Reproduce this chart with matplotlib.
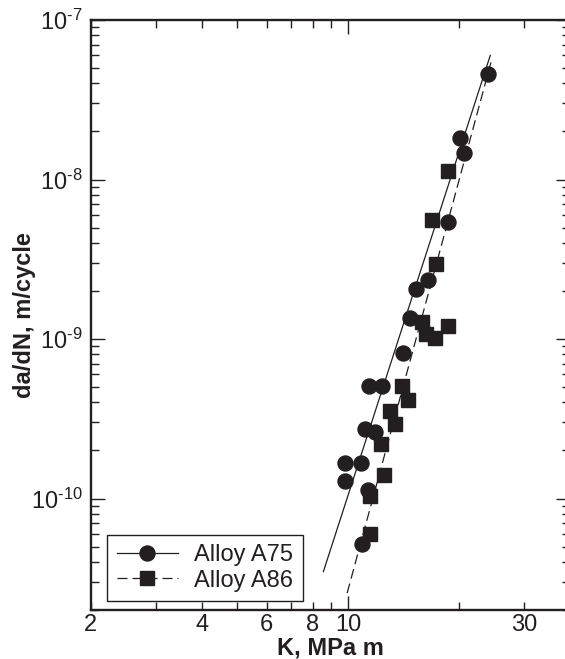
import matplotlib
matplotlib.use("Agg")
import matplotlib.pyplot as plt
from matplotlib.lines import Line2D
from matplotlib.ticker import FixedLocator, FuncFormatter
import math

plt.rcParams['font.family'] = ['Liberation Sans', 'DejaVu Sans']
plt.rcParams['mathtext.fontset'] = 'custom'
plt.rcParams['mathtext.rm'] = 'Liberation Sans'
plt.rcParams['mathtext.it'] = 'Liberation Sans:italic'
plt.rcParams['mathtext.bf'] = 'Liberation Sans:bold'

INK = '#231f20'

# ---- data ----
a75_K = [23.9, 20.1, 20.6, 18.7, 16.5, 15.25, 14.7, 14.1, 11.4, 12.35,
         11.1, 11.84, 9.82, 10.8, 9.82, 11.28, 10.9]
a75_rate = [4.6e-8, 1.82e-8, 1.47e-8, 5.4e-9, 2.35e-9, 2.05e-9, 1.35e-9, 8.2e-10,
            5.1e-10, 5.1e-10, 2.74e-10, 2.61e-10, 1.66e-10, 1.66e-10, 1.28e-10,
            1.13e-10, 5.2e-11]

a86_K = [18.7, 16.9, 17.3, 15.9, 16.3, 17.2, 18.6, 14.0, 14.5, 12.95,
         13.4, 12.27, 12.47, 11.48, 11.48]
a86_rate = [1.13e-8, 5.57e-9, 2.94e-9, 1.27e-9, 1.07e-9, 1.01e-9, 1.2e-9, 5.1e-10,
            4.16e-10, 3.56e-10, 2.94e-10, 2.2e-10, 1.41e-10, 1.04e-10, 5.96e-11]

# fitted lines (end points)
a75_fit_K = [8.56, 24.3]
a75_fit_rate = [3.48e-11, 6.0e-8]
a86_fit_K = [9.93, 24.6]
a86_fit_rate = [2.55e-11, 5.8e-8]

labels = ['Alloy A75', 'Alloy A86']
x_major = [10]
x_minor = [2, 3, 4, 5, 6, 7, 8, 9, 20, 30, 40]
x_minor_labels = ['2', '', '4', '', '6', '', '8', '', '', '30', '']
y_major = [1e-10, 1e-9, 1e-8, 1e-7]

# ---- figure ----
W, H = 565, 659
fig = plt.figure(figsize=(W / 100, H / 100), dpi=100)
ax = fig.add_axes([90.8 / W, (H - 610) / H, (570 - 90.8) / W, 590 / H])

ax.set_xscale('log')
ax.set_yscale('log')
ax.set_xlim(2, 40)
ax.set_ylim(2e-11, 1e-7)

ax.plot(a75_fit_K, a75_fit_rate, color=INK, lw=0.9, ls='-')
ax.plot(a86_fit_K, a86_fit_rate, color=INK, lw=0.9, ls=(0, (8, 4)))

ax.plot(a75_K, a75_rate, ls='none', marker='o', ms=10.8, color=INK, mec=INK)
ax.plot(a86_K, a86_rate, ls='none', marker='s', ms=10.5, color=INK, mec=INK)

# ticks
ax.set_xticks(x_major)
ax.set_xticklabels(['10'])
ax.set_xticks(x_minor, minor=True)
ax.set_xticklabels(x_minor_labels, minor=True)

ax.yaxis.set_major_locator(FixedLocator(y_major))
ax.yaxis.set_major_formatter(
    FuncFormatter(lambda v, p: r'$10^{\text{-}%d}$' % round(-math.log10(v))))

ax.tick_params(axis='both', which='both', direction='in', top=True, right=True,
               colors=INK, labelsize=17, width=1.0)
ax.tick_params(axis='both', which='major', length=10)
ax.tick_params(axis='both', which='minor', length=5.5)
ax.tick_params(axis='x', which='both', pad=3)
ax.tick_params(axis='y', which='both', pad=6)

for s in ax.spines.values():
    s.set_linewidth(1.7)
    s.set_color(INK)

ax.set_xlabel('K, MPa m', fontsize=17, fontweight='bold', color=INK, labelpad=0)
ax.set_ylabel('da/dN, m/cycle', fontsize=17, fontweight='bold', color=INK)
ax.yaxis.set_label_coords(-0.114, 0.5)

handles = [
    Line2D([], [], color=INK, lw=0.9, ls='-', marker='o', ms=10.8),
    Line2D([], [], color=INK, lw=0.9, ls=(0, (8, 4)), marker='s', ms=10.5),
]
leg = ax.legend(handles, labels, loc='lower left', bbox_to_anchor=(0.034, 0.015),
                borderaxespad=0, fontsize=17, handlelength=2.6, handletextpad=0.7,
                labelspacing=0.15, borderpad=0.4, fancybox=False, framealpha=1,
                edgecolor=INK)
leg.get_frame().set_linewidth(1.0)
for t in leg.get_texts():
    t.set_color(INK)

fig.savefig('out.png', dpi=100)
